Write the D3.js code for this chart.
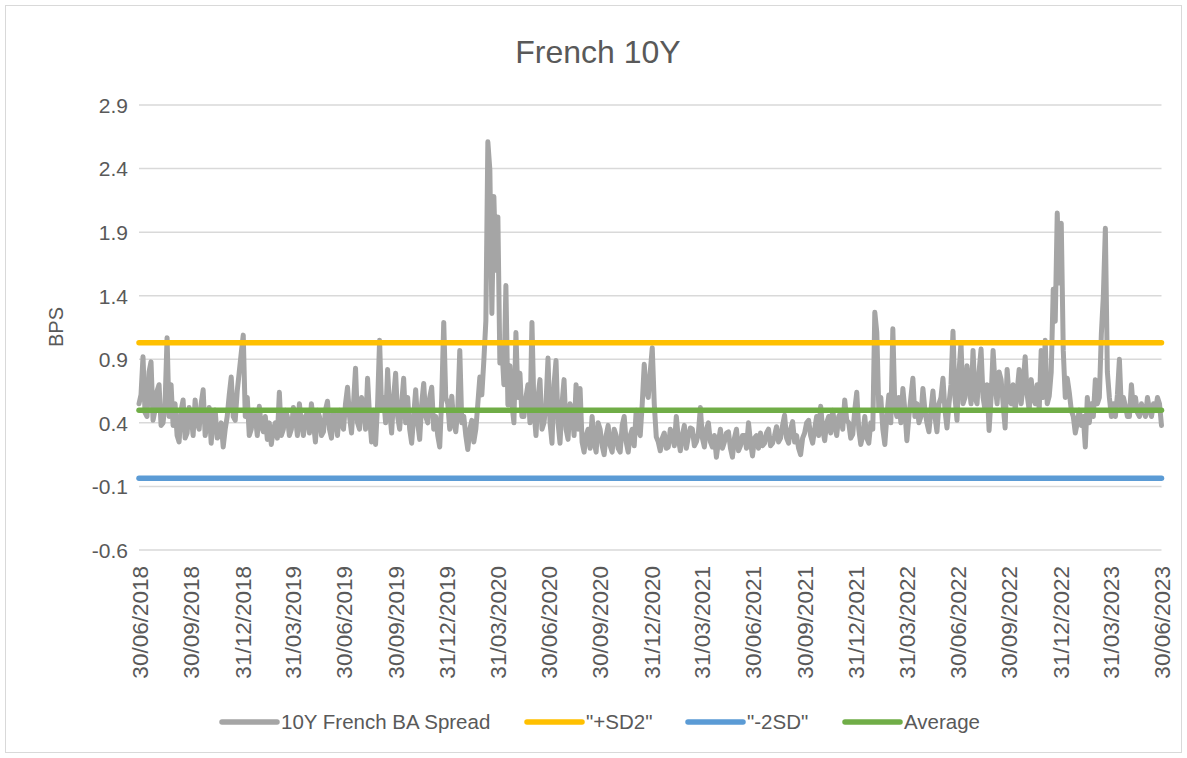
<!DOCTYPE html>
<html>
<head>
<meta charset="utf-8">
<script src="https://cdn.jsdelivr.net/npm/d3@7"></script>
<style>
  body { margin: 0; background: #fff; }
  svg text { font-family: "Liberation Sans", Arial, sans-serif; fill: #595959; }
</style>
</head>
<body>
<svg id="chart" width="1187" height="758"></svg>
<script>
// Chart values (half-weekly samples per quarter)
const startDate = new Date(2018, 5, 30);
const endDate = new Date(2023, 5, 30);

const q3_2018 = [0.55,0.62, 0.92,0.48, 0.45,0.80, 0.88,0.42, 0.50,0.65, 0.70,0.38, 0.40,0.55, 1.07,0.45, 0.70,0.38, 0.55,0.30, 0.25,0.50, 0.58,0.28, 0.32,0.52];
const q4_2018 = [0.45,0.30, 0.58,0.40, 0.35,0.55, 0.66,0.30, 0.40,0.52, 0.24,0.45, 0.50,0.28, 0.30,0.40, 0.21,0.35, 0.45,0.62, 0.76,0.45, 0.42,0.65, 0.80,0.95];
const q1_2019 = [1.09,0.45, 0.60,0.30, 0.35,0.50, 0.45,0.30, 0.53,0.38, 0.33,0.45, 0.27,0.40, 0.23,0.35, 0.40,0.28, 0.64,0.30, 0.35,0.50, 0.45,0.30, 0.35,0.52];
const q2_2019 = [0.45,0.30, 0.55,0.40, 0.30,0.45, 0.48,0.32, 0.55,0.40, 0.25,0.50, 0.45,0.30, 0.33,0.50, 0.57,0.35, 0.28,0.48, 0.45,0.30, 0.50,0.40, 0.35,0.55];
const q3_2019 = [0.68,0.45, 0.32,0.55, 0.83,0.40, 0.35,0.60, 0.55,0.35, 0.75,0.45, 0.25,0.50, 0.23,0.55, 1.05,0.50, 0.60,0.40, 0.82,0.50, 0.32,0.60, 0.79,0.45];
const q4_2019 = [0.35,0.55, 0.75,0.40, 0.60,0.35, 0.24,0.45, 0.66,0.40, 0.27,0.55, 0.71,0.45, 0.40,0.60, 0.68,0.35, 0.45,0.30, 0.21,0.60, 1.19,0.60, 0.55,0.35];
const q1_2020 = [0.61,0.40, 0.33,0.50, 0.97,0.40, 0.45,0.30, 0.19,0.35, 0.42,0.25, 0.35,0.55, 0.76,0.62, 0.89,1.20, 2.61,2.39, 1.26,2.18, 1.60,2.02, 0.87,1.00];
const q2_2020 = [0.70,1.48, 0.54,0.85, 0.55,0.40, 1.11,0.60, 0.79,0.45, 0.45,0.60, 0.70,0.40, 1.19,0.50, 0.30,0.60, 0.74,0.35, 0.40,0.55, 0.91,0.40, 0.24,0.70];
const q3_2020 = [0.89,0.40, 0.24,0.55, 0.74,0.35, 0.27,0.55, 0.50,0.30, 0.70,0.35, 0.67,0.25, 0.17,0.30, 0.35,0.20, 0.45,0.25, 0.17,0.40, 0.35,0.22, 0.15,0.30];
const q4_2020 = [0.38,0.22, 0.17,0.35, 0.30,0.20, 0.17,0.38, 0.45,0.25, 0.17,0.30, 0.35,0.22, 0.50,0.35, 0.30,0.55, 0.86,0.65, 0.60,0.80, 0.99,0.55, 0.29,0.25];
const q1_2021 = [0.18,0.28, 0.32,0.20, 0.21,0.35, 0.30,0.22, 0.45,0.28, 0.18,0.30, 0.38,0.20, 0.29,0.36, 0.35,0.22, 0.25,0.32, 0.52,0.28, 0.21,0.35, 0.40,0.25];
const q2_2021 = [0.21,0.30, 0.13,0.25, 0.35,0.20, 0.25,0.32, 0.33,0.20, 0.13,0.28, 0.35,0.18, 0.22,0.30, 0.30,0.20, 0.40,0.25, 0.14,0.28, 0.30,0.20, 0.32,0.22];
const q3_2021 = [0.24,0.32, 0.35,0.22, 0.24,0.30, 0.37,0.25, 0.28,0.38, 0.46,0.28, 0.24,0.35, 0.41,0.25, 0.30,0.20, 0.15,0.28, 0.32,0.40, 0.42,0.30, 0.24,0.35];
const q4_2021 = [0.45,0.30, 0.53,0.35, 0.26,0.40, 0.45,0.32, 0.50,0.38, 0.30,0.45, 0.48,0.35, 0.58,0.42, 0.40,0.28, 0.31,0.50, 0.64,0.35, 0.23,0.30, 0.45,0.28];
const q1_2022 = [0.24,0.40, 0.35,1.27, 1.11,0.50, 0.60,0.35, 0.23,0.45, 0.62,0.40, 1.14,0.52, 0.45,0.60, 0.40,0.67, 0.50,0.26, 0.45,0.60, 0.75,0.45, 0.55,0.40];
const q2_2022 = [0.45,0.67, 0.50,0.40, 0.33,0.50, 0.65,0.45, 0.33,0.55, 0.60,0.75, 0.50,0.36, 0.55,0.70, 1.12,0.60, 0.42,0.80, 1.03,0.55, 0.60,0.85, 0.70,0.55];
const q3_2022 = [0.97,0.60, 0.55,0.80, 0.98,0.60, 0.50,0.70, 0.34,0.60, 0.97,0.70, 0.55,0.80, 0.74,0.55, 0.36,0.82, 0.60,0.55, 0.70,0.50, 0.65,0.82, 0.55,0.70];
const q4_2022 = [0.92,0.62, 0.50,0.74, 0.60,0.55, 0.70,0.50, 0.97,0.60, 1.05,0.55, 0.61,0.80, 1.45,1.20, 2.05,1.50, 1.97,0.97, 0.60,0.75, 0.64,0.50, 0.45,0.32];
const q1_2023 = [0.40,0.50, 0.38,0.45, 0.21,0.60, 0.40,0.55, 0.45,0.74, 0.55,0.60, 1.10,1.40, 1.93,0.80, 0.60,0.45, 0.55,0.45, 0.62,0.90, 0.50,0.60, 0.53,0.45];
const q2_2023 = [0.45,0.70, 0.50,0.60, 0.48,0.45, 0.55,0.50, 0.45,0.60, 0.50,0.45, 0.55,0.50, 0.60,0.55, 0.38];

const plusSD2 = 1.03;
const minusSD2 = -0.035;
const average = 0.50;

const yTicks = [-0.6, -0.1, 0.4, 0.9, 1.4, 1.9, 2.4, 2.9];
const tickDates = [
  "30/06/2018", "30/09/2018", "31/12/2018", "31/03/2019", "30/06/2019", "30/09/2019",
  "31/12/2019", "31/03/2020", "30/06/2020", "30/09/2020", "31/12/2020", "31/03/2021",
  "30/06/2021", "30/09/2021", "31/12/2021", "31/03/2022", "30/06/2022", "30/09/2022",
  "31/12/2022", "31/03/2023", "30/06/2023"
];
const legendItems = [
  { name: "10Y French BA Spread", color: "#a5a5a5" },
  { name: "\"+SD2\"", color: "#ffc000" },
  { name: "\"-2SD\"", color: "#5b9bd5" },
  { name: "Average", color: "#70ad47" }
];

const spread = [].concat(q3_2018, q4_2018, q1_2019, q2_2019, q3_2019, q4_2019,
  q1_2020, q2_2020, q3_2020, q4_2020, q1_2021, q2_2021, q3_2021, q4_2021,
  q1_2022, q2_2022, q3_2022, q4_2022, q1_2023, q2_2023);

const parseDay = d3.timeParse("%d/%m/%Y");
const step = (endDate - startDate) / (spread.length - 1);
const series = spread.map((v, i) => ({ date: new Date(+startDate + i * step), value: v }));

const svg = d3.select("#chart");
const margin = { left: 139, right: 1187 - 1161.5, top: 105, bottom: 758 - 550 };

// chart border
svg.append("rect")
  .attr("x", 5.5).attr("y", 5.5)
  .attr("width", 1187 - 11).attr("height", 758 - 11)
  .attr("fill", "none")
  .attr("stroke", "#d9d9d9")
  .attr("stroke-width", 1);

const x = d3.scaleTime()
  .domain([startDate, endDate])
  .range([margin.left, 1187 - margin.right]);

const y = d3.scaleLinear()
  .domain([-0.6, 2.9])
  .range([758 - margin.bottom, margin.top]);

// gridlines
svg.append("g")
  .selectAll("line")
  .data(yTicks)
  .join("line")
  .attr("x1", x.range()[0])
  .attr("x2", x.range()[1])
  .attr("y1", d => y(d))
  .attr("y2", d => y(d))
  .attr("stroke", "#d9d9d9")
  .attr("stroke-width", 1.5);

// y axis
const yAxis = svg.append("g")
  .attr("transform", `translate(${margin.left - 8},0)`)
  .call(d3.axisLeft(y).tickValues(yTicks).tickSize(0).tickFormat(d => d.toFixed(1)));
yAxis.select(".domain").remove();
yAxis.selectAll("text")
  .style("font-size", "21px")
  .attr("dy", "0.35em");

// x axis
const xAxis = svg.append("g")
  .attr("transform", `translate(0,${y(-0.6)})`)
  .call(d3.axisBottom(x)
    .tickValues(tickDates.map(parseDay))
    .tickSize(0)
    .tickFormat(d3.timeFormat("%d/%m/%Y")));
xAxis.select(".domain").remove();
xAxis.selectAll("text")
  .style("font-size", "22.5px")
  .attr("text-anchor", "end")
  .attr("transform", "rotate(-90)")
  .attr("x", -16)
  .attr("y", 0)
  .attr("dy", "0.36em");

// y label
svg.append("text")
  .attr("transform", `translate(${63},${327}) rotate(-90)`)
  .attr("text-anchor", "middle")
  .style("font-size", "20px")
  .text("BPS");

// title
svg.append("text")
  .attr("x", 598)
  .attr("y", 63)
  .attr("text-anchor", "middle")
  .style("font-size", "32px")
  .text("French 10Y");

// spread line
const line = d3.line()
  .x(d => x(d.date))
  .y(d => y(d.value));

svg.append("path")
  .datum(series)
  .attr("d", line)
  .attr("fill", "none")
  .attr("stroke", "#a5a5a5")
  .attr("stroke-width", 5)
  .attr("stroke-linejoin", "round")
  .attr("stroke-linecap", "round");

// reference lines
const refs = [
  { value: plusSD2, color: "#ffc000" },
  { value: minusSD2, color: "#5b9bd5" },
  { value: average, color: "#70ad47" }
];
svg.append("g")
  .selectAll("line")
  .data(refs)
  .join("line")
  .attr("x1", x(startDate))
  .attr("x2", x(endDate))
  .attr("y1", d => y(d.value))
  .attr("y2", d => y(d.value))
  .attr("stroke", d => d.color)
  .attr("stroke-width", 5.5)
  .attr("stroke-linecap", "round");

// legend
const legendX = [222, 527, 688, 845];
const legend = svg.append("g")
  .selectAll("g")
  .data(legendItems)
  .join("g")
  .attr("transform", (d, i) => `translate(${legendX[i]},722)`);

legend.append("line")
  .attr("x1", 0).attr("x2", 55)
  .attr("stroke", d => d.color)
  .attr("stroke-width", 5.5)
  .attr("stroke-linecap", "round");

legend.append("text")
  .attr("x", 59)
  .attr("dy", "0.35em")
  .style("font-size", "20.5px")
  .text(d => d.name);
</script>
</body>
</html>
